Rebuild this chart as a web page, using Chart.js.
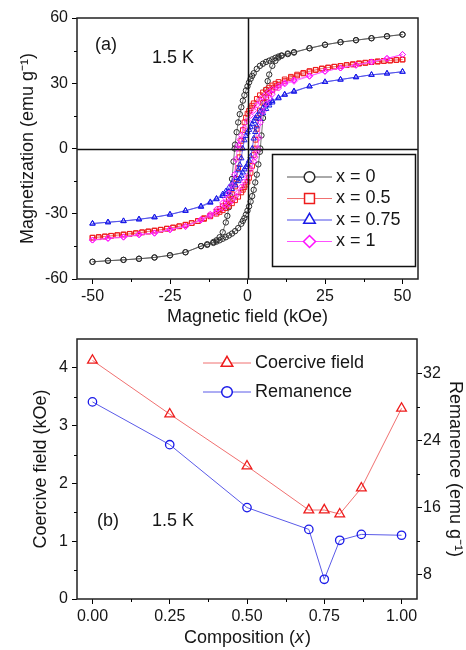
<!DOCTYPE html>
<html>
<head>
<meta charset="utf-8">
<script src="https://cdn.jsdelivr.net/npm/chart.js@4.4.1/dist/chart.umd.min.js"></script>
<style>
  html, body { margin: 0; padding: 0; background: #fff; }
  .panel { position: absolute; left: 0; width: 466px; }
  #panelA { top: 0; height: 330px; }
  #panelB { top: 320px; height: 330px; }
</style>
</head>
<body>
<div class="panel" id="panelA"><canvas id="graficaA" width="466" height="330"></canvas></div>
<div class="panel" id="panelB"><canvas id="graficaB" width="466" height="330"></canvas></div>
<script>
// ——— Panel (a): M(H) loops at 1.5 K ——————————————————
// x = 0
const fieldDown0 = [50, 45, 40, 35, 30, 25, 20, 15, 13, 11, 10, 9, 8, 7, 6, 5, 4, 3, 2, 1.5, 1, 0.5, 0, -0.5, -1, -1.5, -2, -2.5, -3, -3.5, -4, -4.13, -4.5, -5, -5.5, -6, -6.5, -7, -8, -9, -10, -11, -13, -15, -20, -25, -30, -35, -40, -45, -50];
const magDown0 = [52.4, 51.6, 50.7, 49.8, 48.9, 47.7, 46.1, 44.3, 43.7, 42.8, 42.3, 41.7, 41.0, 40.4, 39.8, 39.0, 38.0, 36.6, 34.6, 33.4, 32.0, 30.4, 28.6, 26.7, 24.5, 22.0, 19.0, 15.8, 12.0, 7.5, 1.8, 0, -6, -14, -22, -27, -31, -34, -38.5, -40.8, -42.2, -43.0, -44.0, -44.9, -47.7, -49.1, -50.1, -50.7, -51.2, -51.6, -52.1];
const fieldUp0 = [-50, -45, -40, -35, -30, -25, -20, -15, -13, -11, -10, -9, -8, -7, -6, -5, -4, -3, -2, -1.5, -1, -0.5, 0, 0.5, 1, 1.5, 2, 2.5, 3, 3.5, 4, 4.13, 4.5, 5, 5.5, 6, 6.5, 7, 8, 9, 10, 11, 13, 15, 20, 25, 30, 35, 40, 45, 50];
const magUp0 = [-52.1, -51.6, -51.2, -50.7, -50.1, -49.1, -47.7, -44.9, -44.3, -43.4, -42.8, -42.2, -41.5, -40.8, -40.0, -39.1, -38.0, -36.6, -34.6, -33.3, -32.0, -30.4, -28.6, -26.6, -24.4, -21.9, -19.0, -15.6, -12.0, -7.3, -1.5, 0, 6, 14, 21, 27, 31, 34, 38, 40.3, 41.8, 42.6, 43.4, 44.1, 46.1, 47.7, 48.9, 49.8, 50.7, 51.6, 52.4];

// x = 0.5
const fieldDown05 = [50, 48, 46, 44, 42, 40, 38, 36, 34, 32, 30, 28, 26, 24, 22, 20, 18, 16, 14, 12, 10, 9, 8, 7, 6, 5, 4, 3, 2, 1.5, 1, 0.5, 0, -0.5, -1, -1.5, -2, -2.3, -2.6, -3, -3.5, -4, -5, -6, -7, -8, -9, -10, -12, -14, -16, -18, -20, -22, -24, -26, -28, -30, -32, -34, -36, -38, -40, -42, -44, -46, -48, -50];
const magDown05 = [40.9, 40.7, 40.4, 40.2, 39.9, 39.7, 39.3, 39.0, 38.6, 38.3, 37.9, 37.6, 37.2, 36.8, 36.2, 35.6, 34.8, 34.0, 33.0, 31.8, 30.6, 29.8, 29.0, 28.0, 27.0, 25.8, 24.5, 22.8, 20.8, 19.7, 18.5, 17.3, 16.0, 14.2, 12.0, 8.5, 3.5, 0, -4, -9, -14, -17.5, -21, -23.5, -25.3, -26.5, -27.8, -29.0, -30.8, -32.0, -33.3, -34.3, -35.1, -35.8, -36.4, -36.9, -37.4, -37.8, -38.2, -38.6, -39.0, -39.3, -39.6, -39.9, -40.2, -40.5, -40.8, -41.0];
const fieldUp05 = [-50, -48, -46, -44, -42, -40, -38, -36, -34, -32, -30, -28, -26, -24, -22, -20, -18, -16, -14, -12, -10, -9, -8, -7, -6, -5, -4, -3, -2, -1.5, -1, -0.5, 0, 0.5, 1, 1.5, 2, 2.3, 2.6, 3, 3.5, 4, 5, 6, 7, 8, 9, 10, 12, 14, 16, 18, 20, 22, 24, 26, 28, 30, 32, 34, 36, 38, 40, 42, 44, 46, 48, 50];
const magUp05 = [-41.0, -40.7, -40.4, -40.1, -39.8, -39.5, -39.2, -38.9, -38.5, -38.1, -37.7, -37.3, -36.8, -36.3, -35.7, -35.0, -34.3, -33.4, -32.4, -31.2, -30.0, -29.2, -28.4, -27.4, -26.4, -25.2, -23.8, -22.2, -20.2, -19.0, -17.8, -16.6, -15.3, -13.5, -11.2, -8, -3, 0, 4, 9, 14, 17.5, 21, 23.5, 25.5, 26.8, 28.0, 29.2, 31.0, 32.3, 33.5, 34.5, 35.4, 36.1, 36.7, 37.2, 37.6, 38.0, 38.4, 38.8, 39.2, 39.5, 39.8, 40.1, 40.3, 40.5, 40.7, 40.9];

// x = 0.75
const fieldDown075 = [50, 45, 40, 35, 30, 25, 20, 15, 12, 10, 8, 7, 6, 5, 4, 3, 2.5, 2, 1.5, 1, 0.5, 0, -0.5, -1, -1.54, -2, -2.5, -3, -4, -5, -6, -7, -8, -10, -12, -15, -20, -25, -30, -35, -40, -45, -50];
const magDown075 = [35.3, 34.5, 33.9, 32.8, 31.7, 30.6, 28.6, 26.4, 24.9, 23.4, 21.9, 21.0, 20.0, 18.7, 17.0, 15.0, 13.9, 12.6, 11.2, 9.8, 8.6, 7.45, 5.8, 3.8, 0, -4.5, -7.5, -10, -13.5, -16, -18, -19.7, -21, -23, -24.6, -26.5, -28.7, -30.3, -31.6, -32.5, -33.3, -33.9, -34.5];
const fieldUp075 = [-50, -45, -40, -35, -30, -25, -20, -15, -12, -10, -8, -7, -6, -5, -4, -3, -2.5, -2, -1.5, -1, -0.5, 0, 0.5, 1, 1.54, 2, 2.5, 3, 4, 5, 6, 7, 8, 10, 12, 15, 20, 25, 30, 35, 40, 45, 50];
const magUp075 = [-34.5, -33.9, -33.4, -32.6, -31.6, -30.4, -28.5, -26.8, -24.9, -23.3, -21.8, -20.9, -19.9, -18.6, -16.9, -15.0, -13.8, -12.5, -11.0, -9.6, -8.5, -7.4, -5.6, -3.6, 0, 4.6, 7.6, 10.2, 13.6, 16.2, 18.2, 19.8, 21.2, 23.1, 24.7, 26.1, 28.6, 30.6, 31.7, 32.8, 33.9, 34.5, 35.3];

// x = 1
const fieldDown1 = [50, 45, 40, 35, 30, 25, 20, 15, 12, 10, 8, 7, 6, 5, 4, 3, 2, 1, 0, -1, -2, -2.5, -3, -3.3, -3.7, -4.2, -5, -6, -7, -8, -10, -12, -15, -20, -25, -30, -35, -40, -45, -50];
const magDown1 = [43.2, 41.4, 39.8, 38.3, 37.0, 35.5, 33.4, 31.5, 30.2, 28.8, 27.1, 26.1, 25.0, 23.6, 22.0, 20.0, 17.5, 15.2, 12.7, 9.5, 6.0, 4.0, 1.5, 0, -5, -12, -17, -20.5, -23, -25, -28, -30.2, -32.6, -35.7, -37.2, -38.8, -39.5, -40.6, -41.2, -42.1];
const fieldUp1 = [-50, -45, -40, -35, -30, -25, -20, -15, -12, -10, -8, -7, -6, -5, -4, -3, -2, -1, 0, 1, 2, 2.5, 3, 3.3, 3.7, 4.2, 5, 6, 7, 8, 10, 12, 15, 20, 25, 30, 35, 40, 45, 50];
const magUp1 = [-42.1, -41.4, -40.8, -39.7, -39.0, -37.4, -35.9, -32.9, -31.0, -29.4, -27.5, -26.4, -25.2, -23.8, -22.2, -20.2, -17.7, -15.3, -12.7, -9.4, -5.9, -3.9, -1.4, 0, 5, 12, 17, 20.5, 23, 25, 27.8, 29.7, 30.9, 33.2, 35.5, 37.0, 38.3, 39.8, 41.4, 43.2];

const fieldTicks = [-50, -25, 0, 25, 50];
const magTicks = [-60, -30, 0, 30, 60];
const fieldMinor = [-37.5, -12.5, 12.5, 37.5];
const magMinor = [-45, -15, 15, 45];
const loopLabels = ["x = 0", "x = 0.5", "x = 0.75", "x = 1"];

// ——— Panel (b): coercive field and remanence vs x ——————
const composition = [0, 0.25, 0.5, 0.7, 0.75, 0.8, 0.87, 1.0];
const coerciveField = [4.13, 3.2, 2.3, 1.54, 1.54, 1.47, 1.92, 3.3];
const remanence = [28.6, 23.5, 16.0, 13.4, 7.45, 12.1, 12.8, 12.7];
const compTicks = [0, 0.25, 0.5, 0.75, 1];
const coerciveTicks = [0, 1, 2, 3, 4];
const remanenceTicks = [8, 16, 24, 32];
const compMinor = [0.125, 0.375, 0.625, 0.875];
const coerciveMinor = [0.5, 1.5, 2.5, 3.5];
const remanenceMinor = [12, 20, 28];
const seriesLabels = ["Coercive field", "Remanence"];

// ——— Helpers ——————————————————————————————————————
const FONT = '"Liberation Sans", Arial, sans-serif';
const INK = "#161616";

function toPoints(h, m) {
    return h.map((v, i) => ({ x: v, y: m[i] }));
}

function loopData(hDown, mDown, hUp, mUp) {
    return toPoints(hDown, mDown).concat(toPoints(hUp, mUp));
}

function loopSeries(label, data, mark, line, style, radius, order) {
    return {
        label,
        data,
        showLine: true,
        borderColor: line,
        borderWidth: 0.8,
        pointStyle: style,
        pointRadius: radius,
        pointHoverRadius: radius,
        pointBorderColor: mark,
        pointBackgroundColor: "rgba(0,0,0,0)",
        pointBorderWidth: 1,
        order,
    };
}

function fixedTicks(values) {
    return (s) => {
        s.ticks = values.map((v) => ({ value: v }));
    };
}

function axisGrid() {
    return {
        drawOnChartArea: false,
        drawTicks: true,
        tickLength: 5,
        color: "#000",
        lineWidth: 1,
    };
}

function tickFont() {
    return { font: { family: FONT, size: 16 }, color: INK, maxRotation: 0 };
}

function axisTitle(label, padding) {
    return {
        display: true,
        text: label,
        font: { family: FONT, size: 18 },
        color: INK,
        padding,
    };
}

function minorTicks(chart, axis, values) {
    const s = chart.scales[axis];
    const ctx = chart.ctx;
    ctx.save();
    ctx.strokeStyle = "#000";
    ctx.lineWidth = 1;
    values.forEach((v) => {
        const p = Math.round(s.getPixelForValue(v)) + 0.5;
        ctx.beginPath();
        if (s.isHorizontal()) {
            ctx.moveTo(p, s.top);
            ctx.lineTo(p, s.top + 3);
        } else if (s.position === "left") {
            ctx.moveTo(s.right, p);
            ctx.lineTo(s.right - 3, p);
        } else {
            ctx.moveTo(s.left, p);
            ctx.lineTo(s.left + 3, p);
        }
        ctx.stroke();
    });
    ctx.restore();
}

function frame(chart) {
    const { left, top, right, bottom } = chart.chartArea;
    const ctx = chart.ctx;
    ctx.save();
    ctx.strokeStyle = "#222";
    ctx.lineWidth = 1.5;
    ctx.strokeRect(left, top, right - left, bottom - top);
    ctx.restore();
}

function text(ctx, str, x, y, size, align) {
    ctx.font = `${size}px ${FONT}`;
    ctx.fillStyle = INK;
    ctx.textAlign = align || "left";
    ctx.textBaseline = "middle";
    ctx.fillText(str, x, y);
}

function legendEntry(ctx, x0, x1, y, line, mark, style, radius, label) {
    ctx.save();
    ctx.strokeStyle = line;
    ctx.lineWidth = 1;
    ctx.beginPath();
    ctx.moveTo(x0, y);
    ctx.lineTo(x1, y);
    ctx.stroke();
    ctx.fillStyle = "#fff";
    ctx.strokeStyle = mark;
    ctx.lineWidth = 1.5;
    Chart.helpers.drawPoint(ctx, { pointStyle: style, radius, borderWidth: 1.5, rotation: 0 }, (x0 + x1) / 2, y);
    ctx.restore();
    text(ctx, label, x1 + 4, y, 18);
}

// ——— Panel (a) ——————————————————————————————————————
const loopStyles = [
    { mark: "#2a2a2a", line: "#555", style: "circle", r: 2.7 },
    { mark: "#ee1c1c", line: "#f07070", style: "rect", r: 3.3 },
    { mark: "#1a1ae8", line: "#4a4ae8", style: "triangle", r: 3.1 },
    { mark: "#ff10ff", line: "#ff50ff", style: "rectRot", r: 3.0 },
];

const loops = [
    loopData(fieldDown0, magDown0, fieldUp0, magUp0),
    loopData(fieldDown05, magDown05, fieldUp05, magUp05),
    loopData(fieldDown075, magDown075, fieldUp075, magUp075),
    loopData(fieldDown1, magDown1, fieldUp1, magUp1),
];

const panelAExtras = {
    id: "panelAExtras",
    afterDatasetsDraw(chart) {
        const ctx = chart.ctx;
        const { left, top, right, bottom } = chart.chartArea;
        const x0 = Math.round(chart.scales.x.getPixelForValue(0)) + 0.5;
        const y0 = Math.round(chart.scales.y.getPixelForValue(0)) + 0.5;
        ctx.save();
        ctx.strokeStyle = "#111";
        ctx.lineWidth = 1.5;
        ctx.beginPath();
        ctx.moveTo(left, y0);
        ctx.lineTo(right, y0);
        ctx.moveTo(x0, top);
        ctx.lineTo(x0, bottom);
        ctx.stroke();
        ctx.restore();
    },
    afterDraw(chart) {
        const ctx = chart.ctx;
        frame(chart);
        minorTicks(chart, "x", fieldMinor);
        minorTicks(chart, "y", magMinor);
        text(ctx, "(a)", 95, 45, 18);
        text(ctx, "1.5 K", 152, 58, 18);

        // legend box
        ctx.save();
        ctx.fillStyle = "#fff";
        ctx.fillRect(272.5, 154.5, 143, 112);
        ctx.strokeStyle = "#111";
        ctx.lineWidth = 1.5;
        ctx.strokeRect(272.5, 154.5, 143, 112);
        ctx.restore();
        loopLabels.forEach((lab, i) => {
            const st = loopStyles[i];
            const rr = [5.3, 7, 6.7, 6][i];
            legendEntry(ctx, 287, 332, 177 + i * 21.5, st.line, st.mark, st.style, rr, lab);
        });
    },
};

new Chart(document.getElementById("graficaA"), {
    type: "scatter",
    data: {
        datasets: loops.map((d, i) =>
            loopSeries(loopLabels[i], d, loopStyles[i].mark, loopStyles[i].line, loopStyles[i].style, loopStyles[i].r, 4 - i)
        ),
    },
    options: {
        responsive: false,
        animation: false,
        devicePixelRatio: 1,
        layout: { padding: { left: 0, top: 18, right: 48, bottom: 0 } },
        plugins: { legend: { display: false }, tooltip: { enabled: false } },
        scales: {
            x: {
                type: "linear",
                min: -55,
                max: 55,
                afterBuildTicks: fixedTicks(fieldTicks),
                afterFit: (s) => { s.height = 51; },
                grid: axisGrid(),
                border: { display: false },
                ticks: { ...tickFont(), padding: 3, callback: (v) => String(v) },
                title: axisTitle("Magnetic field (kOe)", { top: 0, bottom: 2 }),
            },
            y: {
                type: "linear",
                min: -60,
                max: 60,
                afterBuildTicks: fixedTicks(magTicks),
                afterFit: (s) => { s.width = 77; },
                grid: axisGrid(),
                border: { display: false },
                ticks: { ...tickFont(), padding: 4, callback: (v) => String(v) },
                title: axisTitle("Magnetization (emu g\u207B\u00B9)", { top: 17, bottom: 0 }),
            },
        },
    },
    plugins: [panelAExtras],
});

// ——— Panel (b) ——————————————————————————————————————
const panelBExtras = {
    id: "panelBExtras",
    afterDraw(chart) {
        const ctx = chart.ctx;
        const { left, right } = chart.chartArea;
        frame(chart);
        minorTicks(chart, "x", compMinor);
        minorTicks(chart, "y", coerciveMinor);
        minorTicks(chart, "y1", remanenceMinor);
        text(ctx, "(b)", 97, 201, 18);
        text(ctx, "1.5 K", 152, 201, 18);

        legendEntry(ctx, 203, 251, 43, "#f07070", "#ee1c1c", "triangle", 6.7, seriesLabels[0]);
        legendEntry(ctx, 203, 251, 72, "#5a5ae8", "#1a1ae8", "circle", 5.3, seriesLabels[1]);

        // x title with italic x
        const cx = (left + right) / 2;
        const y = 318;
        ctx.save();
        ctx.font = `18px ${FONT}`;
        const a = "Composition (";
        const b = "x";
        const c = ")";
        const wa = ctx.measureText(a).width;
        const wc = ctx.measureText(c).width;
        ctx.font = `italic 18px ${FONT}`;
        const wb = ctx.measureText(b).width;
        const start = cx - (wa + wb + wc) / 2;
        text(ctx, a, start, y, 18);
        ctx.font = `italic 18px ${FONT}`;
        ctx.fillText(b, start + wa, y);
        text(ctx, c, start + wa + wb + 1, y, 18);
        ctx.restore();
    },
};

new Chart(document.getElementById("graficaB"), {
    type: "scatter",
    data: {
        datasets: [
            {
                label: seriesLabels[0],
                data: toPoints(composition, coerciveField),
                yAxisID: "y",
                showLine: true,
                borderColor: "#f07070",
                borderWidth: 1,
                pointStyle: "triangle",
                pointRadius: 5.6,
                pointHoverRadius: 5.6,
                pointBorderColor: "#ee1c1c",
                pointBackgroundColor: "rgba(0,0,0,0)",
                pointBorderWidth: 1.3,
            },
            {
                label: seriesLabels[1],
                data: toPoints(composition, remanence),
                yAxisID: "y1",
                showLine: true,
                borderColor: "#5a5ae8",
                borderWidth: 1,
                pointStyle: "circle",
                pointRadius: 4.2,
                pointHoverRadius: 4.2,
                pointBorderColor: "#1a1ae8",
                pointBackgroundColor: "rgba(0,0,0,0)",
                pointBorderWidth: 1.3,
            },
        ],
    },
    options: {
        responsive: false,
        animation: false,
        devicePixelRatio: 1,
        layout: { padding: { left: 0, top: 19, right: 0, bottom: 0 } },
        plugins: { legend: { display: false }, tooltip: { enabled: false } },
        scales: {
            x: {
                type: "linear",
                min: -0.05,
                max: 1.05,
                afterBuildTicks: fixedTicks(compTicks),
                afterFit: (s) => { s.height = 51; },
                grid: axisGrid(),
                border: { display: false },
                ticks: { ...tickFont(), padding: 3, callback: (v) => Number(v).toFixed(2) },
                title: { display: false },
            },
            y: {
                type: "linear",
                position: "left",
                min: 0,
                max: 4.5,
                afterBuildTicks: fixedTicks(coerciveTicks),
                afterFit: (s) => { s.width = 77; },
                grid: axisGrid(),
                border: { display: false },
                ticks: { ...tickFont(), padding: 4, callback: (v) => String(v) },
                title: axisTitle("Coercive field (kOe)", { top: 30, bottom: 0 }),
            },
            y1: {
                type: "linear",
                position: "right",
                min: 5.1,
                max: 36.1,
                afterBuildTicks: fixedTicks(remanenceTicks),
                afterFit: (s) => { s.width = 49; },
                grid: axisGrid(),
                border: { display: false },
                ticks: { ...tickFont(), padding: 1, callback: (v) => String(v) },
                title: axisTitle("Remanence (emu g\u207B\u00B9)", { top: 0, bottom: 0 }),
            },
        },
    },
    plugins: [panelBExtras],
});
</script>
</body>
</html>
